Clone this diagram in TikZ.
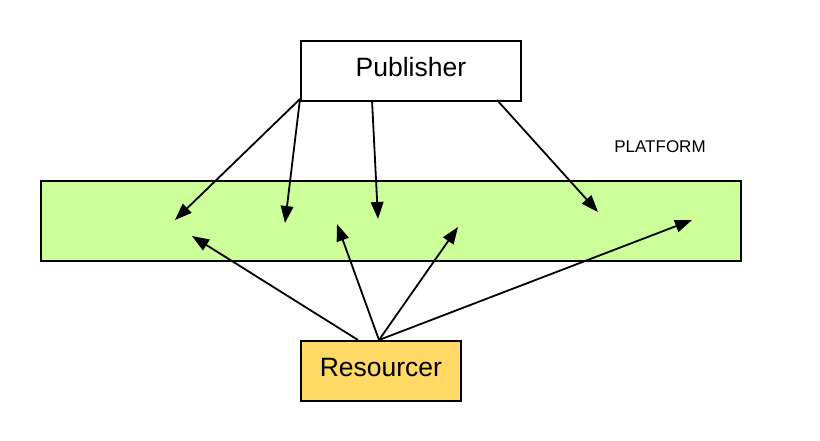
\documentclass[tikz,border=0pt]{standalone}
\usepackage{fontspec}
\setmainfont{Liberation Sans}
\usetikzlibrary{arrows.meta}
\definecolor{platgreen}{RGB}{204,255,153}
\definecolor{resyellow}{RGB}{255,217,102}
\tikzset{
  box/.style={draw=black, line width=1.8pt, inner sep=0pt, anchor=north west, text height=19pt, text depth=8pt},
  conn/.style={draw=black, line width=1.8pt, -{Triangle[length=17pt,width=12.5pt]}},
}
\begin{document}
\begin{tikzpicture}[x=1pt,y=-1pt]
\useasboundingbox[fill=white] (0,0) rectangle (820,440);
\node[box, fill=platgreen, minimum width=700pt, minimum height=80pt] (plat) at (40,180) {};
\node[box, fill=white, minimum width=220pt, minimum height=60pt, font=\fontsize{26.5}{30}\selectfont] (pub) at (300,40) {Publisher};
\node[box, fill=resyellow, minimum width=160pt, minimum height=60pt, font=\fontsize{26.5}{30}\selectfont] (res) at (300,340) {Resourcer};
\node[font=\fontsize{17}{20}\selectfont] (lbl) at (660,147) {PLATFORM};
% targets
\coordinate (t1) at (175,220);
\coordinate (t2) at (285,223);
\coordinate (t3) at (378,219);
\coordinate (t4) at (598,212);
\coordinate (t5) at (192,236);
\coordinate (t6) at (337,224);
\coordinate (t7) at (458,227);
\coordinate (t8) at (692,220);
% sources
\coordinate (p1) at (300,99);
\coordinate (p3) at (372,100);
\coordinate (p4) at (497,100);
\coordinate (r1) at (358,340);
\coordinate (r2) at (379,340);
\draw[conn] (p1) -- (t1);
\draw[conn] (p1) -- (t2);
\draw[conn] (p3) -- (t3);
\draw[conn] (p4) -- (t4);
\draw[conn] (r1) -- (t5);
\draw[conn] (r2) -- (t6);
\draw[conn] (r2) -- (t7);
\draw[conn] (r2) -- (t8);
\end{tikzpicture}
\end{document}
